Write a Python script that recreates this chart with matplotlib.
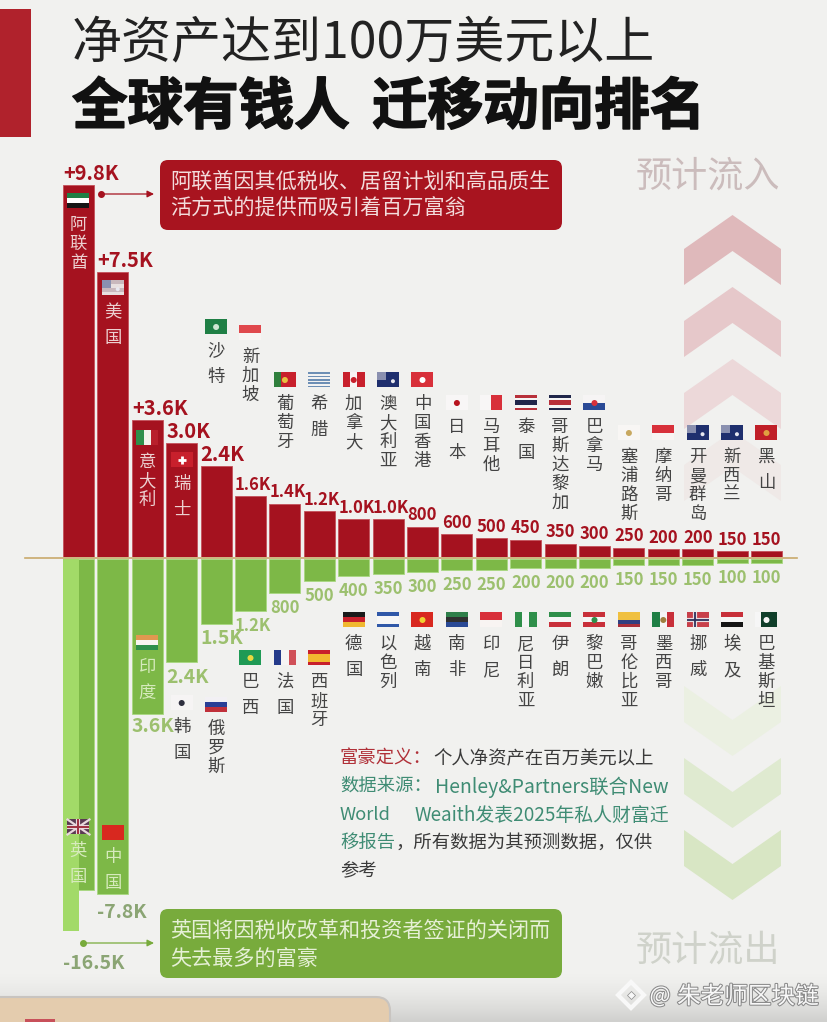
import numpy as np
import matplotlib
matplotlib.use('Agg')
import matplotlib.pyplot as plt
from matplotlib.patches import FancyBboxPatch, Polygon, Rectangle, Circle
import matplotlib.patheffects as pe

plt.rcParams['font.family'] = ['Noto Sans CJK SC', 'DejaVu Sans']

# values in thousands of people
in_names = ['阿联酋', '美国', '意大利', '瑞士', '沙特', '新加坡', '葡萄牙', '希腊', '加拿大', '澳大利亚', '中国香港',
            '日本', '马耳他', '泰国', '哥斯达黎加', '巴拿马', '塞浦路斯', '摩纳哥', '开曼群岛', '新西兰', '黑山']
in_values = [9.8, 7.5, 3.6, 3.0, 2.4, 1.6, 1.4, 1.2, 1.0, 1.0, 0.8,
             0.6, 0.5, 0.45, 0.35, 0.3, 0.25, 0.2, 0.2, 0.15, 0.15]
in_labels = ['+9.8K', '+7.5K', '+3.6K', '3.0K', '2.4K', '1.6K', '1.4K', '1.2K', '1.0K', '1.0K', '800',
             '600', '500', '450', '350', '300', '250', '200', '200', '150', '150']

out_names = ['英国', '中国', '印度', '韩国', '俄罗斯', '巴西', '法国', '西班牙', '德国', '以色列', '越南',
             '南非', '印尼', '尼日利亚', '伊朗', '黎巴嫩', '哥伦比亚', '墨西哥', '挪威', '埃及', '巴基斯坦']
out_values = [16.5, 7.8, 3.6, 2.4, 1.5, 1.2, 0.8, 0.5, 0.4, 0.35, 0.3,
              0.25, 0.25, 0.2, 0.2, 0.2, 0.15, 0.15, 0.15, 0.1, 0.1]
out_labels = ['-16.5K', '-7.8K', '3.6K', '2.4K', '1.5K', '1.2K', '800', '500', '400', '350', '300',
              '250', '250', '200', '200', '200', '150', '150', '150', '100', '100']

# the UK bar is broken in the original, the axis stops here
out_cap = 8.65
uk_dark = 7.7

# flag centre heights in pixels
in_flag_y = [201, 288, 438, 460, 327, 333, 380, 380, 380, 380, 380,
             403, 403, 403, 403, 403, 433, 433, 433, 433, 433]
out_flag_y = [827, 833, 643, 703, 705, 658, 658, 658, 620, 620, 620,
              620, 620, 620, 620, 620, 620, 620, 620, 620, 620]

navy = '#1f2f6e'
red = '#c8202c'
green = '#1f7f45'
flags = {
    '阿联酋': ('h', ['#1f7f45', '#ffffff', '#151515'], None),
    '美国': ('h', ['#c9b8bd', '#e8e0e0', '#c9b8bd', '#e8e0e0'], 'canton'),
    '意大利': ('v', ['#2f8f4a', '#f2f2ea', '#b8202c'], None),
    '瑞士': ('h', [red], 'plus'),
    '沙特': ('h', [green], '#cfe6d2'),
    '新加坡': ('h', ['#e0484c', '#f8f4f2'], None),
    '葡萄牙': ('v', ['#2f7f3c', red, red], '#e8c040'),
    '希腊': ('h', ['#6d8fb5', '#f2f2f2'] * 4 + ['#6d8fb5'], None),
    '加拿大': ('v', [red, '#f8f4f4', red], red),
    '澳大利亚': ('h', [navy], 'canton'),
    '中国香港': ('h', ['#d8303a'], '#ffffff'),
    '日本': ('h', ['#f8f6f6'], '#b8141f'),
    '马耳他': ('v', ['#f8f6f6', '#d8303a'], None),
    '泰国': ('h', ['#b8303a', '#f4f4f4', '#20264a', '#20264a', '#f4f4f4', '#b8303a'], None),
    '哥斯达黎加': ('h', ['#20264a', '#f4f4f4', '#b8303a', '#b8303a', '#f4f4f4', '#20264a'], None),
    '巴拿马': ('h', ['#f6f4f4', '#2a4a96'], '#d8303a'),
    '塞浦路斯': ('h', ['#f8f6f4'], '#c8a860'),
    '摩纳哥': ('h', ['#d8303a', '#f8f4f2'], None),
    '开曼群岛': ('h', [navy], 'canton'),
    '新西兰': ('h', [navy], 'canton'),
    '黑山': ('h', ['#c01f28'], '#e0a040'),
    '英国': ('h', ['#5a3a52'], 'union'),
    '中国': ('h', ['#d8281f'], None),
    '印度': ('h', ['#e09850', '#f8f4f0', '#2f8f4a'], None),
    '韩国': ('h', ['#f6f4f4'], '#303040'),
    '俄罗斯': ('h', ['#f2f0f4', '#2a3f96', '#c0303a'], None),
    '巴西': ('h', ['#1f9a55'], '#e8d840'),
    '法国': ('v', ['#243a8a', '#f6f4f4', '#d05058'], None),
    '西班牙': ('h', ['#c8202c', '#f2b830', '#f2b830', '#c8202c'], None),
    '德国': ('h', ['#1a1a1a', '#c8202c', '#f0b830'], None),
    '以色列': ('h', ['#3058a8', '#f6f6f6', '#f6f6f6', '#3058a8'], None),
    '越南': ('h', ['#d8281f'], '#f0d030'),
    '南非': ('h', ['#2f7f4a', '#303030', '#2a4a96'], None),
    '印尼': ('h', ['#d8303a', '#f8f4f2'], None),
    '尼日利亚': ('v', ['#2f8f4a', '#f6f6f6', '#2f8f4a'], None),
    '伊朗': ('h', ['#2f8f4a', '#f6f6f6', '#c8303a'], None),
    '黎巴嫩': ('h', ['#c8303a', '#f6f6f6', '#c8303a'], '#2f8f4a'),
    '哥伦比亚': ('h', ['#f0c040', '#f0c040', '#303f80', '#a8303a'], None),
    '墨西哥': ('v', ['#1f7f45', '#f6f6f6', '#c8303a'], '#a08040'),
    '挪威': ('h', ['#c8404a'], 'nordic'),
    '埃及': ('h', ['#c8303a', '#f6f6f6', '#151515'], None),
    '巴基斯坦': ('v', ['#f6f6f6', '#103f2a', '#103f2a', '#103f2a'], '#f6f6f6'),
}

W, H = 828, 1022
x0, step = 78.5, 34.4
bar_w = 0.9
c_red = '#a5121f'
c_green = '#7db847'
c_light = '#a2da68'
bg = '#f1f1ef'


def pixel_axes(fig, z):
    a = fig.add_axes([0, 0, 1, 1], zorder=z)
    a.set_xlim(0, W)
    a.set_ylim(H, 0)
    a.axis('off')
    return a


def chevron(a, top, up, color, left=684, right=781, rise=34, thick=36):
    mid = (left + right) / 2
    if up:
        pts = [(mid, top), (right, top + rise), (right, top + rise + thick), (mid, top + thick),
               (left, top + rise + thick), (left, top + rise)]
    else:
        pts = [(left, top), (mid, top + rise), (right, top), (right, top + thick),
               (mid, top + rise + thick), (left, top + thick)]
    a.add_patch(Polygon(pts, closed=True, fc=color, ec='none'))


def flag(a, name, cx, cy, w=22, h=15):
    orient, cols, extra = flags[name]
    n = len(cols)
    for k, c in enumerate(cols):
        if orient == 'h':
            a.add_patch(Rectangle((cx - w / 2, cy - h / 2 + k * h / n), w, h / n, fc=c, ec='none'))
        else:
            a.add_patch(Rectangle((cx - w / 2 + k * w / n, cy - h / 2), w / n, h, fc=c, ec='none'))
    if extra == 'canton':
        a.add_patch(Rectangle((cx - w / 2, cy - h / 2), w * 0.42, h * 0.5, fc='#8a90b0', ec='none'))
        a.add_patch(Circle((cx + w * 0.22, cy + h * 0.08), 2, fc='#e8e8f0', ec='none'))
    elif extra == 'plus':
        a.plot([cx - 4, cx + 4], [cy, cy], c='white', lw=2, solid_capstyle='butt')
        a.plot([cx, cx], [cy - 4, cy + 4], c='white', lw=2, solid_capstyle='butt')
    elif extra == 'union':
        a.plot([cx - w / 2, cx + w / 2], [cy - h / 2, cy + h / 2], c='#e8d8dc', lw=1.6)
        a.plot([cx - w / 2, cx + w / 2], [cy + h / 2, cy - h / 2], c='#e8d8dc', lw=1.6)
        a.plot([cx - w / 2, cx + w / 2], [cy, cy], c='#e8d8dc', lw=3, solid_capstyle='butt')
        a.plot([cx, cx], [cy - h / 2, cy + h / 2], c='#e8d8dc', lw=3, solid_capstyle='butt')
        a.plot([cx - w / 2, cx + w / 2], [cy, cy], c='#a03040', lw=1.4, solid_capstyle='butt')
        a.plot([cx, cx], [cy - h / 2, cy + h / 2], c='#a03040', lw=1.4, solid_capstyle='butt')
    elif extra == 'nordic':
        a.plot([cx - w / 2, cx + w / 2], [cy, cy], c='#e8e0e4', lw=3, solid_capstyle='butt')
        a.plot([cx - 3, cx - 3], [cy - h / 2, cy + h / 2], c='#e8e0e4', lw=3, solid_capstyle='butt')
        a.plot([cx - w / 2, cx + w / 2], [cy, cy], c='#30305a', lw=1.3, solid_capstyle='butt')
        a.plot([cx - 3, cx - 3], [cy - h / 2, cy + h / 2], c='#30305a', lw=1.3, solid_capstyle='butt')
    elif extra:
        a.add_patch(Circle((cx, cy), 3, fc=extra, ec='none'))


def vertical_name(a, name, x, y0, color='#444444'):
    # two character names are spaced wider in the original
    gap = 26 if len(name) == 2 else 19
    for k, ch in enumerate(name):
        a.text(x, y0 + k * gap, ch, color=color, fontsize=12.5, ha='center', va='center')


fig = plt.figure('wealth', figsize=(W / 100, H / 100), dpi=100, facecolor=bg)

######################################
# background layer

axb = pixel_axes(fig, 0)
axb.add_patch(Rectangle((0, 9), 31, 128, fc='#b0222c', ec='none'))

chevron(axb, 215, True, '#dfb9bb')
chevron(axb, 287, True, '#e6c8ca')
chevron(axb, 359, True, '#ecd8d9')
chevron(axb, 431, True, '#efe9e7')
chevron(axb, 686, False, '#ebf0e2')
chevron(axb, 758, False, '#dfead0')
chevron(axb, 830, False, '#d8e6c4')

# grey fade at the bottom and the cut off panel
grad = np.linspace(0, 1, 50)[:, None] ** 1.5
axb.imshow(grad, extent=(0, W, H, H - 50), cmap=matplotlib.colors.LinearSegmentedColormap.from_list('f', [bg, '#d0d0ce']),
           aspect='auto', zorder=1)
axb.set_xlim(0, W)
axb.set_ylim(H, 0)
axb.add_patch(FancyBboxPatch((-20, 997), 410, 50, boxstyle='round,pad=0,rounding_size=14', fc='#e4ccae', ec='#c8c4c0', lw=1.5, zorder=2))
axb.add_patch(Rectangle((25, 1019), 30, 4, fc='#c8505a', ec='none', zorder=3))

axb.plot([25, 797], [558, 558], c='#c9aa6c', lw=1.2)

######################################
# bars

xlim = (-x0 / step, (W - x0) / step)
idx = np.arange(len(in_values))

ax_in = fig.add_axes([0, (H - 557) / H, 1, 372 / H], zorder=1)
ax_in.patch.set_alpha(0)
ax_in.axis('off')
ax_in.set_xlim(*xlim)
ax_in.set_ylim(0, 9.8)
ax_in.bar(idx, in_values, width=bar_w, color=c_red, edgecolor='#c4505a', linewidth=0.6)

for i, (v, lab) in enumerate(zip(in_values, in_labels)):
    big = i < 5
    wide = 'K' in lab
    ax_in.annotate(lab, (i - bar_w / 2 if wide else i, v), xytext=(0, 11.5 * 0.72), textcoords='offset points',
                   color='#a5121f', fontweight='bold', fontsize=14.5 if big else 12,
                   ha='left' if wide else 'center', va='center', annotation_clip=False)

ax_out = fig.add_axes([0, (H - 559 - 372) / H, 1, 372 / H], zorder=1)
ax_out.patch.set_alpha(0)
ax_out.axis('off')
ax_out.set_xlim(*xlim)
ax_out.set_ylim(out_cap, 0)
out_heights = [uk_dark] + out_values[1:]
ax_out.bar(idx, out_heights, width=bar_w, color=c_green, edgecolor='#a8d880', linewidth=0.6)
ax_out.bar(-bar_w / 4, out_cap, width=bar_w / 2, color=c_light, linewidth=0)

for i, (v, lab) in enumerate(zip(out_heights, out_labels)):
    big = i < 5
    wide = 'K' in lab
    dy = 32 if i == 0 else 15
    if i == 0:
        v = out_cap
    if i == 1:
        dy = 18
    if i == 2:
        dy = 13
    col = '#8ba574' if i < 2 else '#9cc06e'
    ax_out.annotate(lab, (i - bar_w / 2 if wide else i, v), xytext=(0, -dy * 0.72), textcoords='offset points',
                    color=col, fontweight='bold', fontsize=14 if big else 12,
                    ha='left' if wide else 'center', va='center', annotation_clip=False)

######################################
# text, flags, callouts

ax = pixel_axes(fig, 2)
ax.patch.set_alpha(0)

ax.text(72, 43, '净资产达到100万美元以上', fontsize=36, color='#222222', va='center')
ax.text(72, 108, '全球有钱人', fontsize=40, fontweight='bold', color='#111111', va='center',
        path_effects=[pe.withStroke(linewidth=1.2, foreground='#111111')])
ax.text(372, 108, '迁移动向排名', fontsize=40, fontweight='bold', color='#111111', va='center',
        path_effects=[pe.withStroke(linewidth=1.2, foreground='#111111')])

ax.text(708, 177, '预计流入', fontsize=26, color='#cbbcbc', ha='center', va='center')
ax.text(708, 950, '预计流出', fontsize=26, color='#cfd2ca', ha='center', va='center')

for i, name in enumerate(in_names):
    cx = x0 + i * step
    fy = in_flag_y[i]
    flag(ax, name, cx, fy)
    inside = i < 4
    vertical_name(ax, name, cx, fy + 24, '#ecd0d0' if inside else '#444444')

for i, name in enumerate(out_names):
    cx = x0 + i * step
    fy = out_flag_y[i]
    flag(ax, name, cx, fy)
    inside = i < 3
    vertical_name(ax, name, cx, fy + 24, '#d6eabc' if inside else '#444444')

ax.add_patch(FancyBboxPatch((160, 160), 402, 70, boxstyle='round,pad=0,rounding_size=8', fc='#a8141f', ec='none'))
ax.text(170, 182, '阿联酋因其低税收、居留计划和高品质生', fontsize=15.2, color='#f3dcdc', va='center')
ax.text(170, 209, '活方式的提供而吸引着百万富翁', fontsize=15.2, color='#f3dcdc', va='center')

ax.add_patch(FancyBboxPatch((160, 909), 402, 69, boxstyle='round,pad=0,rounding_size=8', fc='#78ab3c', ec='none'))
ax.text(170, 931, '英国将因税收改革和投资者签证的关闭而', fontsize=15.2, color='#e6f0d6', va='center')
ax.text(170, 960, '失去最多的富豪', fontsize=15.2, color='#e6f0d6', va='center')

ax.annotate('', xy=(154, 194), xytext=(100, 194), arrowprops=dict(arrowstyle='-|>', color='#a5121f', lw=0.9, shrinkA=0, shrinkB=0))
ax.plot([101], [194], 'o', c='#a5121f', ms=4)
ax.annotate('', xy=(154, 943), xytext=(82, 943), arrowprops=dict(arrowstyle='-|>', color='#78ab3c', lw=0.9, shrinkA=0, shrinkB=0))
ax.plot([83], [943], 'o', c='#78ab3c', ms=4)

teal = '#3f8c74'
ink = '#3a3a3a'
ax.text(340, 759, '富豪定义：', fontsize=13.2, color='#b03038', va='center')
ax.text(433, 759, '个人净资产在百万美元以上', fontsize=13.2, color=ink, va='center')
ax.text(340, 787, '数据来源：', fontsize=13.2, color=teal, va='center')
ax.text(435, 787, 'Henley&Partners联合New', fontsize=14, color=teal, va='center')
ax.text(340, 815, 'World', fontsize=13.2, color=teal, va='center')
ax.text(415, 815, 'Weaith发表2025年私人财富迁', fontsize=13.6, color=teal, va='center')
ax.text(340, 843, '移报告', fontsize=13.2, color=teal, va='center')
ax.text(396, 843, '，所有数据为其预测数据，仅供', fontsize=13.2, color=ink, va='center')
ax.text(340, 871, '参考', fontsize=13.2, color=ink, va='center')

# watermark
halo = [pe.withStroke(linewidth=1.5, foreground='#8a8a8a')]
ax.plot([631], [995], 'D', ms=13, mfc='none', mec='#f8f8f8', mew=3, path_effects=halo)
ax.plot([631], [995], 'D', ms=4, mfc='#f8f8f8', mec='#8a8a8a', mew=0.5)
ax.text(660, 996, '@', fontsize=16, color='#f8f8f8', ha='center', va='center', path_effects=halo)
ax.text(677, 997, '朱老师区块链', fontsize=17, color='#f8f8f8', va='center', path_effects=halo)

fig.savefig('out.png', dpi=100, facecolor=bg)
